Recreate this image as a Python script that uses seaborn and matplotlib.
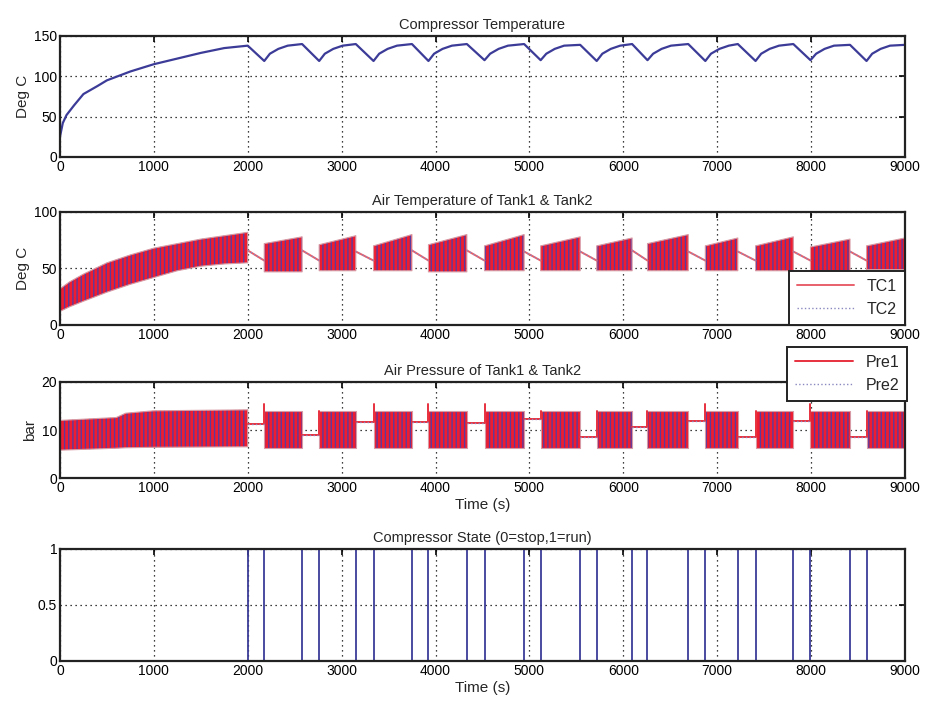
import numpy as np
import pandas as pd
import matplotlib
matplotlib.use("Agg")
import matplotlib.pyplot as plt
import seaborn as sns

# compressor on/off switching times (s)
run_start = [0, 2176, 2761, 3340, 3925, 4522, 5120, 5717, 6258, 6874, 7409, 7994, 8591]
run_stop = [2000, 2579, 3151, 3749, 4334, 4944, 5541, 6094, 6692, 7220, 7811, 8415, 9000]

# compressor temperature
ct_time = [0, 30, 70, 150, 250, 400, 500, 750, 1000, 1250, 1500, 1750, 2000,
           2176, 2236, 2326, 2426, 2579,
           2761, 2821, 2911, 3011, 3151,
           3340, 3400, 3490, 3590, 3749,
           3925, 3985, 4075, 4175, 4334,
           4522, 4582, 4672, 4772, 4944,
           5120, 5180, 5270, 5370, 5541,
           5717, 5777, 5867, 5967, 6094,
           6258, 6318, 6408, 6508, 6692,
           6874, 6934, 7024, 7124, 7220,
           7409, 7469, 7559, 7659, 7811,
           7994, 8054, 8144, 8244, 8415,
           8591, 8651, 8741, 8841, 9000]
ct_temp = [25, 42, 52, 64, 78, 88, 95, 106, 115, 122, 129, 135, 138,
           119, 128, 134, 138, 140,
           119, 128, 134, 138, 140,
           119, 128, 134, 138, 140,
           119, 128, 134, 138, 140,
           120, 128, 134, 138, 140,
           120, 128, 134, 138, 139,
           119, 128, 134, 138, 140,
           120, 128, 134, 138, 140,
           119, 128, 134, 138, 140,
           119, 128, 134, 138, 140,
           120, 128, 134, 138, 139,
           119, 128, 134, 138, 139]

# tank air temperature: first charging ramp envelope
tc_ramp_t = [0, 100, 250, 500, 750, 1000, 1250, 1500, 1750, 2000]
tc_ramp_lo = [12, 16, 21, 29, 36, 42, 48, 52, 54, 55]
tc_ramp_hi = [32, 38, 45, 55, 62, 68, 72, 76, 79, 82]
# later run blocks (envelope at block start / end)
tc_lo = [47, 48, 48, 47, 48, 48, 48, 48, 48, 48, 48, 49]
tc_hi_start = [72, 71, 70, 71, 70, 70, 70, 72, 70, 70, 69, 70]
tc_hi_end = [78, 79, 80, 80, 80, 78, 77, 80, 77, 78, 76, 77]
# cooling while compressor is stopped
tc_stop_from = [66, 66, 65, 66, 66, 65, 65, 66, 65, 65, 65, 65]
tc_stop_to = [57, 57, 57, 57, 57, 57, 57, 57, 57, 57, 57, 57]

# tank pressure
p_ramp_t = [0, 300, 600, 700, 1000, 2000]
p_ramp_lo = [5.8, 6.0, 6.2, 6.3, 6.4, 6.5]
p_ramp_hi = [12.0, 12.3, 12.6, 13.5, 14.0, 14.2]
p_lo = [6.3, 6.3, 6.3, 6.3, 6.3, 6.3, 6.3, 6.3, 6.3, 6.3, 6.3, 6.3]
p_hi = [14.0, 14.0, 14.0, 14.0, 14.0, 14.0, 14.0, 14.0, 14.0, 14.0, 14.0, 14.0]
p_stop_level = [11.2, 9.0, 11.7, 11.7, 11.5, 12.2, 8.6, 10.7, 11.9, 8.6, 11.8, 8.6]
p_restart_peak = [15.5, 14.0, 15.5, 15.5, 15.5, 14.0, 14.0, 14.0, 15.5, 14.0, 15.5, 14.0]

# compressor state
state_t = [0, 2000, 2176, 2579, 2761, 3151, 3340, 3749, 3925, 4334, 4522, 4944,
           5120, 5541, 5717, 6094, 6258, 6692, 6874, 7220, 7409, 7811, 7994,
           8415, 8591, 9000]
state_v = [1, 0, 1, 0, 1, 0, 1, 0, 1, 0, 1, 0,
           1, 0, 1, 0, 1, 0, 1, 0, 1, 0, 1,
           0, 1, 1]

x_ticks = [0, 1000, 2000, 3000, 4000, 5000, 6000, 7000, 8000, 9000]

sns.set_style("white")
plt.rcParams['font.family'] = ['Liberation Sans Narrow', 'Liberation Sans', 'DejaVu Sans']
plt.rcParams['hatch.linewidth'] = 1.0

RED = '#ee1c2e'
PURPLE = '#5b3a9e'
BLUE = '#3c3c98'

fig = plt.figure(figsize=(9.31, 7.04), dpi=100)
ax1 = fig.add_axes([0.0644, 0.7770, 0.9076, 0.1719])
ax2 = fig.add_axes([0.0644, 0.5384, 0.9076, 0.1605])
ax3 = fig.add_axes([0.0644, 0.3210, 0.9076, 0.1364])
ax4 = fig.add_axes([0.0644, 0.0611, 0.9076, 0.1591])


def matlab_axes(ax, yticks, ylim, title, ylabel=None, xlabel=None):
    ax.set_xlim(0, 9000)
    ax.set_ylim(*ylim)
    ax.set_xticks(x_ticks)
    ax.set_yticks(yticks)
    ax.set_xticklabels([str(t) for t in x_ticks])
    ax.grid(True, color='black', linestyle=(0, (1, 3)), linewidth=0.9)
    ax.tick_params(direction='in', top=True, right=True, length=4, width=1.2,
                   labelsize=10, pad=2, colors='black')
    for sp in ax.spines.values():
        sp.set_visible(True)
        sp.set_color('#222222')
        sp.set_linewidth(1.6)
    ax.set_title(title, fontsize=10.5, pad=5)
    ax.set_ylabel(ylabel if ylabel else '', fontsize=11, labelpad=3)
    ax.set_xlabel(xlabel if xlabel else '', fontsize=11, labelpad=2)
    ax.set_axisbelow(True)


def band(ax, x, lo, hi):
    ax.fill_between(x, lo, hi, facecolor=RED, edgecolor=PURPLE, hatch='||||',
                    linewidth=0)
    ax.fill_between(x, lo, hi, facecolor='none', edgecolor='#d89aa4',
                    linewidth=0.8)


# 1. compressor temperature
ct_df = pd.DataFrame({'t': ct_time, 'temp': ct_temp})
sns.lineplot(data=ct_df, x='t', y='temp', ax=ax1, color=BLUE, linewidth=1.6,
             estimator=None)
matlab_axes(ax1, [0, 50, 100, 150], (0, 150), 'Compressor Temperature', 'Deg C')

# 2. tank air temperature
band(ax2, tc_ramp_t, tc_ramp_lo, tc_ramp_hi)
for i in range(len(tc_lo)):
    s, e = run_start[i + 1], run_stop[i + 1]
    band(ax2, [s, e], [tc_lo[i], tc_lo[i]], [tc_hi_start[i], tc_hi_end[i]])
for i in range(len(tc_stop_from)):
    s, e = run_stop[i], run_start[i + 1]
    ax2.plot([s, e], [tc_stop_from[i], tc_stop_to[i]], color='#e8606a',
             linewidth=1.4, label='TC1' if i == 0 else None)
    ax2.plot([s, e], [tc_stop_from[i], tc_stop_to[i]], color='#8a88c0',
             linewidth=1.0, linestyle=':', label='TC2' if i == 0 else None)
matlab_axes(ax2, [0, 50, 100], (0, 100), 'Air Temperature of Tank1 & Tank2', 'Deg C')
leg2 = ax2.legend(loc='lower right', bbox_to_anchor=(1.0, 0.0), borderaxespad=0,
                  fontsize=11.5, handlelength=3.6, fancybox=False, framealpha=1,
                  edgecolor='#222222', borderpad=0.5, labelspacing=0.5)
leg2.get_frame().set_linewidth(1.4)

# 3. tank pressure
band(ax3, p_ramp_t, p_ramp_lo, p_ramp_hi)
for i in range(len(p_lo)):
    s, e = run_start[i + 1], run_stop[i + 1]
    band(ax3, [s, e], [p_lo[i], p_lo[i]], [p_hi[i], p_hi[i]])
for i in range(len(p_stop_level)):
    s, e = run_stop[i], run_start[i + 1]
    ax3.plot([s, e, e], [p_stop_level[i], p_stop_level[i], p_restart_peak[i]],
             color='#e8303e', linewidth=1.4, label='Pre1' if i == 0 else None)
    ax3.plot([s, e], [p_stop_level[i], p_stop_level[i]], color='#8a88c0',
             linewidth=1.0, linestyle=':', label='Pre2' if i == 0 else None)
matlab_axes(ax3, [0, 10, 20], (0, 20), 'Air Pressure of Tank1 & Tank2', 'bar', 'Time (s)')
leg3 = ax3.legend(loc='upper right', bbox_to_anchor=(1.003, 1.365), borderaxespad=0,
                  fontsize=11.5, handlelength=3.6, fancybox=False, framealpha=1,
                  edgecolor='#222222', borderpad=0.5, labelspacing=0.5)
leg3.get_frame().set_linewidth(1.4)
leg3.set_zorder(10)

# 4. compressor state
st_df = pd.DataFrame({'t': state_t, 'state': state_v})
sns.lineplot(data=st_df, x='t', y='state', ax=ax4, color=BLUE, linewidth=1.3,
             drawstyle='steps-post', estimator=None)
matlab_axes(ax4, [0, 0.5, 1], (0, 1), 'Compressor State (0=stop,1=run)', None, 'Time (s)')
ax4.set_yticklabels(['0', '0.5', '1'])

fig.savefig('out.png', dpi=100)
